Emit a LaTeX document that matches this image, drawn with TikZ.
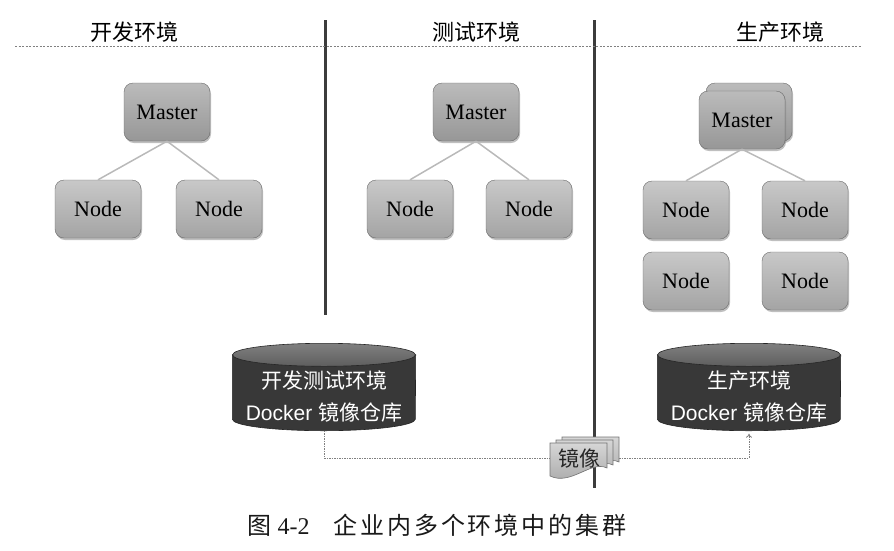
\documentclass[tikz,border=0pt]{standalone}
\usepackage{fontspec}
\setmainfont{Liberation Serif}
\setsansfont{Liberation Sans}
\newfontfamily\cjk{Noto Sans CJK SC}
\newfontfamily\cjkcap[LetterSpace=12]{Noto Sans CJK SC}
\usetikzlibrary{positioning,shadows,arrows.meta}

\definecolor{boxline}{HTML}{6A6A6A}
\definecolor{boxtop}{HTML}{C8C8C8}
\definecolor{boxbot}{HTML}{A4A4A4}
\definecolor{mastop}{HTML}{BBBBBB}
\definecolor{masbot}{HTML}{979797}
\definecolor{repobody}{HTML}{383838}
\definecolor{repotop}{HTML}{808080}
\definecolor{repotopd}{HTML}{5E5E5E}
\definecolor{wallgray}{HTML}{3C3C3C}
\definecolor{docfill}{HTML}{C4C4C4}

\begin{document}
\begin{tikzpicture}[x=1pt,y=-1pt,on grid,
		box/.style={draw=boxline,rounded corners=9pt,minimum width=86pt,minimum height=58pt,
			top color=boxtop,bottom color=boxbot,
			drop shadow={shadow xshift=1pt,shadow yshift=-2pt,opacity=.5},
			font=\fontsize{22}{24}\selectfont},
		master/.style={box,top color=mastop,bottom color=masbot},
		title/.style={font=\cjk\fontsize{22}{24}\selectfont},
		link/.style={draw=gray!55,line width=1.5pt},
		wall/.style={draw=wallgray,line width=3pt},
		sep/.style={draw=gray,line width=.8pt,dash pattern=on 2pt off 1.5pt},
		repo/.style={minimum width=183pt,minimum height=87pt,inner sep=0pt},
		repotext/.style={text=white,align=center,font=\sffamily\fontsize{21}{32}\selectfont},
		ship/.style={draw=gray,line width=.8pt,dash pattern=on 1.5pt off 1pt,-{To[length=4pt,width=6pt]}},
		doc/.style={draw=gray!90!black,line width=.6pt,top color=docfill!70!white,bottom color=docfill!85!black},
		doctext/.style={text=black!85,font=\cjk\fontsize{21}{23}\selectfont}]

	\useasboundingbox (0,0) rectangle (894,550);

	\draw[wall] (325,20) -- (325,315);
	\draw[wall] (594,20) -- (594,488);
	\draw[sep] (15,46) -- (862,46);

	\node[title] (dt) at (134,32) {开发环境};
	\node[title] (tt) at (476,32) {测试环境};
	\node[title] (pt) at (780,32) {生产环境};

	\node[master] (dm) at (167,112) {Master};
	\node[box] (dn1) [below left=97pt and 69pt of dm] {Node};
	\node[box] (dn2) [below right=97pt and 52pt of dm] {Node};

	\node[master] (tm) at (476,112) {Master};
	\node[box] (tn1) [below left=97pt and 66pt of tm] {Node};
	\node[box] (tn2) [below right=97pt and 53pt of tm] {Node};

	\node[master] (pmb) at (749,112) {};
	\node[master] (pm) [below left=8pt and 7pt of pmb] {Master};
	\node[box] (pn1) [below left=90pt and 56pt of pm] {Node};
	\node[box] (pn2) [below right=90pt and 63pt of pm] {Node};
	\node[box] (pn3) [below=71pt of pn1] {Node};
	\node[box] (pn4) [below=71pt of pn2] {Node};

	\draw[link] (dm.south) -- (dn1.north);
	\draw[link] (dm.south) -- (dn2.north);
	\draw[link] (tm.south) -- (tn1.north);
	\draw[link] (tm.south) -- (tn2.north);
	\draw[link] (pm.south) -- (pn1.north);
	\draw[link] (pm.south) -- (pn2.north);

	\node[repo] (drepo) at (324,387) {};
	\node[repo] (prepo) at (749,387) {};
	\foreach \r in {drepo,prepo} {
		\draw[black!85,line width=.6pt,fill=repobody] ([yshift=-11.5pt]\r.north west) -- ([yshift=11.5pt]\r.south west)
			arc[start angle=180,end angle=360,x radius=91.5pt,y radius=11.5pt] -- ([yshift=-11.5pt]\r.north east) -- cycle;
		\draw[black!85,line width=.6pt,top color=repotop,bottom color=repotopd]
			([yshift=-11.5pt]\r.north) ellipse [x radius=91.5pt,y radius=11.5pt];
	}
	\node[repotext] (drepot) at (324,396) {{\cjk 开发测试环境}\\Docker {\cjk 镜像仓库}};
	\node[repotext] (prepot) at (749,396) {{\cjk 生产环境}\\Docker {\cjk 镜像仓库}};

	\coordinate (imgc) at (579,458);
	\draw[ship] (drepo.south) |- (imgc) -| ([yshift=-3pt]prepo.south);
	\begin{scope}[shift={(imgc)}]
		\foreach \dx/\dy in {12/-6,6/-3,0/0}
			\draw[doc] (-29+\dx,-15+\dy) -- (28+\dx,-15+\dy) -- (28+\dx,10+\dy)
				.. controls (12+\dx,2+\dy) and (-8+\dx,28+\dy) .. (-29+\dx,18+\dy) -- cycle;
	\end{scope}
	\node[doctext] (img) at (imgc) {镜像};

	\node[font=\fontsize{24}{26}\selectfont,text=black!90] (cap) at (437,525)
		{{\cjkcap 图} 4-2\hspace{24pt}{\cjkcap 企业内多个环境中的集群}};
\end{tikzpicture}
\end{document}
